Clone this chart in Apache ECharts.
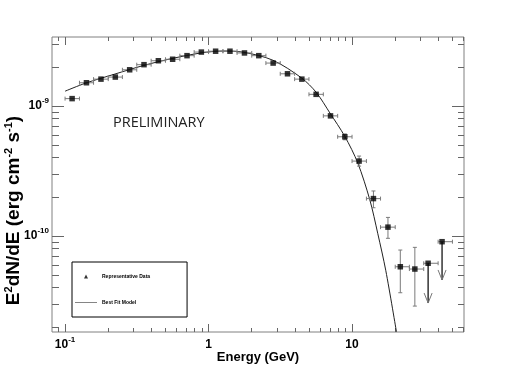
<!DOCTYPE html>
<html>
<head>
<meta charset="utf-8">
<script src="https://cdn.jsdelivr.net/npm/echarts@6/dist/echarts.min.js"></script>
<style>
html, body { margin: 0; padding: 0; background: #fff; }
#chart { width: 517px; height: 370px; }
</style>
</head>
<body>
<div id="chart"></div>
<script>
// spectral points (GeV, erg cm^-2 s^-1)
const energy = [0.112, 0.141, 0.178, 0.224, 0.282, 0.355, 0.447, 0.562, 0.708, 0.891,
  1.12, 1.41, 1.78, 2.24, 2.82, 3.55, 4.47, 5.62, 7.08, 8.91,
  11.2, 14.1, 17.8, 21.7, 27.4, 33.9, 42.4];
const binEdges = [0.1, 0.126, 0.158, 0.2, 0.251, 0.316, 0.398, 0.501, 0.631, 0.794,
  1, 1.26, 1.58, 2, 2.51, 3.16, 3.98, 5.01, 6.31, 7.94,
  10, 12.6, 15.8, 20, 25.1, 31.6, 39.8, 50.1];
const flux = [1.14e-9, 1.51e-9, 1.61e-9, 1.67e-9, 1.90e-9, 2.08e-9, 2.23e-9, 2.29e-9, 2.44e-9, 2.60e-9,
  2.64e-9, 2.64e-9, 2.56e-9, 2.44e-9, 2.14e-9, 1.77e-9, 1.61e-9, 1.23e-9, 8.4e-10, 5.8e-10,
  3.77e-10, 1.94e-10, 1.17e-10, 5.8e-11, 5.57e-11, 6.17e-11, 9.04e-11];
// vertical error bars (null = hidden under the marker)
const fluxHi = [null, null, null, null, null, null, null, null, null, null,
  null, null, null, null, null, null, null, null, null, 6.1e-10,
  4.12e-10, 2.22e-10, 1.39e-10, 7.8e-11, 8.18e-11, null, null];
const fluxLo = [null, null, null, null, null, null, null, null, null, null,
  null, null, null, null, null, null, null, null, null, 5.5e-10,
  3.45e-10, 1.65e-10, 9.6e-11, 3.66e-11, 2.89e-11, null, null];
// the last two bins are upper limits
const upperLimits = [25, 26];
const ulArrowTip = [3.05e-11, 4.59e-11];

// best fit model, sampled along the drawn curve
const modelE = [0.1, 0.139, 0.222, 0.352, 0.557, 0.887, 1.26, 1.76, 2.81, 4.46,
  5.64, 7.03, 8.9, 10.96, 13.3, 15.1, 17.2, 20.4];
const modelF = [1.30e-9, 1.50e-9, 1.76e-9, 2.05e-9, 2.32e-9, 2.56e-9, 2.65e-9, 2.59e-9, 2.25e-9, 1.64e-9,
  1.27e-9, 8.8e-10, 5.85e-10, 3.65e-10, 1.9e-10, 1.05e-10, 5.4e-11, 1.83e-11];

const xMin = 0.0811, xMax = 60.3;
const yMin = 1.826e-11, yMax = 3.396e-9;
const xMajor = [0.1, 1, 10];
const xMinor = [0.09, 0.2, 0.3, 0.4, 0.5, 0.6, 0.7, 0.8, 0.9, 2, 3, 4, 5, 6, 7, 8, 9, 20, 30, 40, 50, 60];
const yMajor = [1e-10, 1e-9];
const yMinor = [2e-11, 3e-11, 4e-11, 5e-11, 6e-11, 7e-11, 8e-11, 9e-11,
  2e-10, 3e-10, 4e-10, 5e-10, 6e-10, 7e-10, 8e-10, 9e-10, 2e-9, 3e-9];

const lg = v => Math.log10(v);
const FONT = 'Liberation Sans, Arial, sans-serif';
const TICK = '#666';

const rich = {
  b: { fontFamily: FONT, fontWeight: 'bold', fontSize: 12, lineHeight: 18, color: '#000' },
  s: { fontFamily: FONT, fontWeight: 'bold', fontSize: 8, lineHeight: 9, verticalAlign: 'top', color: '#000' }
};
function powLabel(v) {
  const p = Math.round(v);
  if (p === 0) return '{b|1}';
  if (p === 1) return '{b|10}';
  return '{b|10}{s|' + p + '}';
}

// decorative value axes in log10 space, only for ticks / labels
function tickAxis(pos, lo, hi, values, len, extra) {
  return Object.assign({
    type: 'value', position: pos, min: lg(lo), max: lg(hi),
    axisLine: { show: false, onZero: false },
    splitLine: { show: false },
    axisTick: { show: true, inside: true, length: len, customValues: values.map(lg),
      lineStyle: { color: TICK, width: 1 } },
    axisLabel: { show: false }
  }, extra || {});
}

const chart = echarts.init(document.getElementById('chart'), null, { renderer: 'canvas' });

const barData = energy.map((e, i) => [e, flux[i], binEdges[i], binEdges[i + 1], fluxHi[i] || 0, fluxLo[i] || 0]);
const ulData = upperLimits.map((idx, k) => [energy[idx], flux[idx], ulArrowTip[k]]);

function renderBars(params, api) {
  const x = api.value(0), y = api.value(1);
  const c = api.coord([x, y]);
  const l = api.coord([api.value(2), y]);
  const r = api.coord([api.value(3), y]);
  const st = { stroke: '#7a7a7a', lineWidth: 1 };
  const kids = [
    { type: 'line', shape: { x1: l[0], y1: c[1], x2: r[0], y2: c[1] }, style: st },
    { type: 'line', shape: { x1: l[0], y1: c[1] - 2, x2: l[0], y2: c[1] + 2 }, style: st },
    { type: 'line', shape: { x1: r[0], y1: c[1] - 2, x2: r[0], y2: c[1] + 2 }, style: st }
  ];
  const hi = api.value(4), lo = api.value(5);
  if (hi > 0 && lo > 0) {
    const t = api.coord([x, hi]), b = api.coord([x, lo]);
    kids.push(
      { type: 'line', shape: { x1: c[0], y1: t[1], x2: c[0], y2: b[1] }, style: st },
      { type: 'line', shape: { x1: c[0] - 2, y1: t[1], x2: c[0] + 2, y2: t[1] }, style: st },
      { type: 'line', shape: { x1: c[0] - 2, y1: b[1], x2: c[0] + 2, y2: b[1] }, style: st }
    );
  }
  return { type: 'group', children: kids };
}

function renderArrows(params, api) {
  const x = api.value(0);
  const p = api.coord([x, api.value(1)]);
  const tip = api.coord([x, api.value(2)]);
  return { type: 'group', children: [
    { type: 'line', shape: { x1: p[0], y1: p[1], x2: tip[0], y2: tip[1] }, style: { stroke: '#000', lineWidth: 1.2 } },
    { type: 'polyline', shape: { points: [[tip[0] - 4, tip[1] - 10], [tip[0], tip[1]], [tip[0] + 4, tip[1] - 10]] },
      style: { stroke: '#777', lineWidth: 1, fill: null } }
  ] };
}

chart.setOption({
  animation: false,
  backgroundColor: '#fff',
  grid: { left: 52, right: 53, top: 37, bottom: 38, show: true, borderColor: '#808080', borderWidth: 1,
    backgroundColor: 'transparent', outerBoundsMode: 'none' },
  legend: {
    left: 72, top: 262, orient: 'vertical',
    itemWidth: 22, itemHeight: 4, itemGap: 21,
    padding: [12, 37, 12, 3],
    borderColor: '#000', borderWidth: 1, borderRadius: 0,
    backgroundColor: '#fff',
    textStyle: { fontFamily: FONT, fontWeight: 'bold', fontSize: 5, color: '#000' },
    data: [
      { name: 'Representative Data', icon: 'path://M0,0M22,4M9,4L11,0L13,4Z', itemStyle: { color: '#000' } },
      { name: 'Best Fit Model', icon: 'path://M0,0M22,4M0,1.6L22,1.6L22,2.4L0,2.4Z', itemStyle: { color: '#666' } }
    ]
  },
  graphic: [{
    type: 'text', left: 113, top: 115,
    style: { text: 'PRELIMINARY', font: '14.5px "Open Sans", sans-serif', fill: '#222' }
  }],
  xAxis: [
    { type: 'log', logBase: 10, min: xMin, max: xMax, show: false },
    tickAxis('bottom', xMin, xMax, xMajor, 8, {
      axisLabel: { show: true, customValues: xMajor.map(lg), formatter: powLabel, rich: rich, margin: 4 },
      name: 'Energy (GeV)', nameLocation: 'middle', nameGap: 19, nameMoveOverlap: false,
      nameTextStyle: { fontFamily: FONT, fontWeight: 'bold', fontSize: 13, color: '#000' }
    }),
    tickAxis('bottom', xMin, xMax, xMinor, 4),
    tickAxis('top', xMin, xMax, xMajor, 8),
    tickAxis('top', xMin, xMax, xMinor, 4)
  ],
  yAxis: [
    { type: 'log', logBase: 10, min: yMin, max: yMax, show: false },
    tickAxis('left', yMin, yMax, yMajor, 12, {
      axisLabel: { show: true, customValues: yMajor.map(lg), formatter: powLabel, rich: rich, margin: 3 },
      name: '{t|E}{s|2}{t|dN/dE (erg cm}{s|-2}{t| s}{s|-1}{t|)}',
      nameLocation: 'middle', nameGap: 27, nameMoveOverlap: false,
      nameTextStyle: {
        padding: [0, 52, 0, 0],
        rich: {
          t: { fontFamily: FONT, fontWeight: 'bold', fontSize: 19, lineHeight: 22, color: '#000' },
          s: { fontFamily: FONT, fontWeight: 'bold', fontSize: 11, lineHeight: 11, verticalAlign: 'top', color: '#000' }
        }
      }
    }),
    tickAxis('left', yMin, yMax, yMinor, 7),
    tickAxis('right', yMin, yMax, yMajor, 12),
    tickAxis('right', yMin, yMax, yMinor, 6)
  ],
  series: [
    {
      name: 'Best Fit Model', type: 'line', xAxisIndex: 0, yAxisIndex: 0,
      data: modelE.map((e, i) => [e, modelF[i]]),
      symbol: 'none', smooth: 0.3, clip: true,
      itemStyle: { color: '#666' },
      lineStyle: { color: '#222', width: 1 }, z: 2
    },
    {
      type: 'custom', xAxisIndex: 0, yAxisIndex: 0, renderItem: renderBars,
      data: barData, encode: { x: 0, y: 1 }, z: 3, silent: true
    },
    {
      type: 'custom', xAxisIndex: 0, yAxisIndex: 0, renderItem: renderArrows,
      data: ulData, encode: { x: 0, y: 1 }, z: 3, silent: true
    },
    {
      name: 'Representative Data', type: 'scatter', xAxisIndex: 0, yAxisIndex: 0,
      data: energy.map((e, i) => [e, flux[i]]),
      symbol: 'rect', symbolSize: 5.5,
      itemStyle: { color: '#000' }, z: 4
    }
  ]
});
</script>
</body>
</html>
